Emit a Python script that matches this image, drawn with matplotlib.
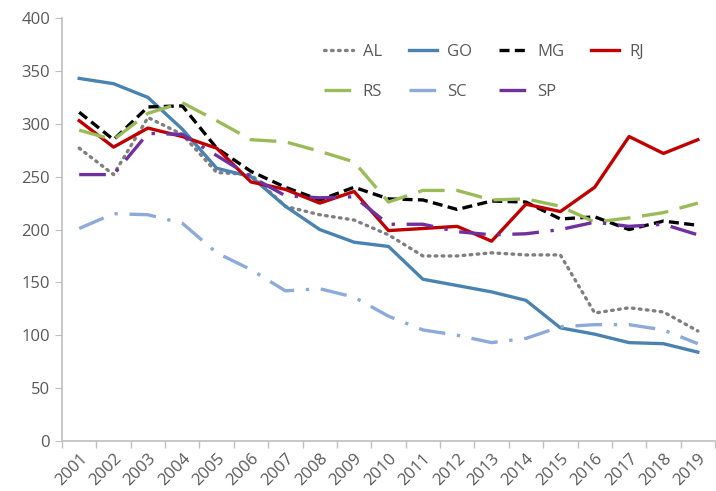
import matplotlib
matplotlib.use("Agg")
import matplotlib.pyplot as plt
import numpy as np

years = [str(y) for y in range(2001, 2020)]
AL = [277, 252, 306, 290, 254, 252, 222, 214, 209, 195, 175, 175, 178, 176, 176, 121, 126, 122, 104]
GO = [343, 338, 325, 295, 258, 250, 222, 200, 188, 184, 153, 147, 141, 133, 107, 101, 93, 92, 84]
MG = [311, 285, 316, 317, 277, 255, 240, 228, 240, 229, 228, 219, 227, 226, 210, 212, 200, 208, 204]
RJ = [303, 278, 296, 288, 277, 245, 238, 225, 236, 199, 201, 203, 189, 224, 217, 240, 288, 272, 285]
RS = [294, 285, 310, 320, 303, 285, 283, 274, 264, 226, 237, 237, 228, 229, 222, 207, 211, 216, 225]
SC = [201, 215, 214, 206, 178, 162, 142, 144, 136, 118, 105, 100, 93, 97, 108, 110, 110, 105, 92]
SP = [252, 252, 291, 290, 270, 250, 232, 230, 231, 205, 205, 198, 195, 196, 200, 207, 203, 205, 195]
yticks = [0, 50, 100, 150, 200, 250, 300, 350, 400]

plt.rcParams['font.family'] = ['Open Sans', 'DejaVu Sans']
fig = plt.figure(figsize=(7.16, 4.91), dpi=100)
ax = fig.add_axes([0.0866, 0.102, 0.912, 0.861])

x = np.arange(len(years))
lw = 2.4
h = {}
h['AL'], = ax.plot(x, AL, color='#7f7f7f', lw=lw, linestyle=(0, (0.5, 1.6)), dash_capstyle='round', label='AL')
h['GO'], = ax.plot(x, GO, color='#4a82b0', lw=lw, label='GO')
h['MG'], = ax.plot(x, MG, color='#000000', lw=lw, linestyle=(0, (3, 1.6)), label='MG')
h['RJ'], = ax.plot(x, RJ, color='#c00000', lw=lw, label='RJ')
h['RS'], = ax.plot(x, RS, color='#9bbb59', lw=lw, linestyle=(0, (8, 3.5)), label='RS')
h['SC'], = ax.plot(x, SC, color='#8eaadb', lw=lw, linestyle=(0, (8, 3.5, 1, 3.5)), label='SC')
h['SP'], = ax.plot(x, SP, color='#7030a0', lw=lw, linestyle=(0, (8, 3.5, 1, 3.5)), label='SP')

ax.set_xlim(-0.5, len(years) - 0.5)
ax.set_ylim(0, 400)
ax.set_yticks(yticks)
ax.set_xticks(x)
ax.set_xticklabels(years, rotation=45, ha='right', rotation_mode='anchor')
ax.set_xticks(np.arange(-0.5, len(years), 1), minor=True)
ax.tick_params(axis='x', which='major', length=0, pad=7, labelsize=12, colors='#595959')
ax.tick_params(axis='x', which='minor', length=5, color='#bfbfbf', width=1)
ax.tick_params(axis='y', length=5, color='#bfbfbf', labelsize=12, labelcolor='#595959')
for s in ['top', 'right']:
    ax.spines[s].set_visible(False)
for s in ['left', 'bottom']:
    ax.spines[s].set_color('#bfbfbf')
    ax.spines[s].set_linewidth(1.2)

order = ['AL', 'RS', 'GO', 'SC', 'MG', 'SP', 'RJ']
leg = ax.legend([h[k] for k in order], order, ncol=4, loc='upper left',
                bbox_to_anchor=(0.379, 0.975), frameon=False,
                fontsize=12, labelspacing=1.45, columnspacing=1.6, handlelength=1.7,
                handletextpad=0.6)
for t in leg.get_texts():
    t.set_color('#595959')

fig.savefig('out.png', dpi=100)
